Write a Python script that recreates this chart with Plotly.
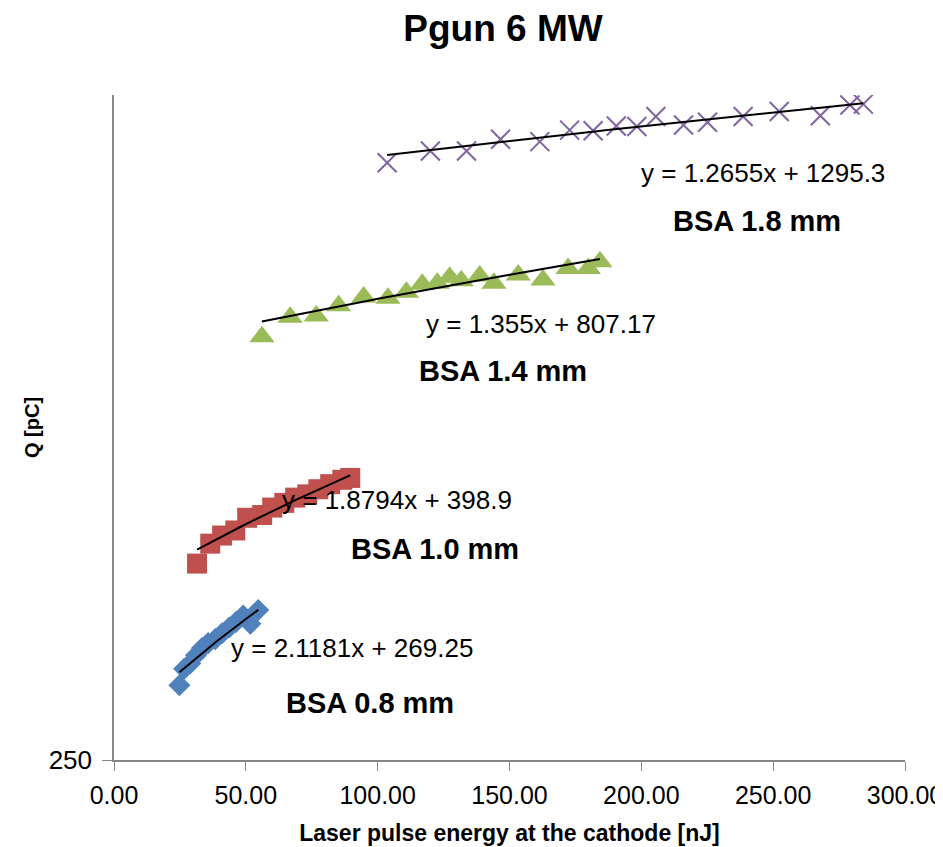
import numpy as np
import plotly.graph_objects as go

# ---- data ----
bsa08_x = [24.8, 26.6, 28.9, 31.1, 33.4, 35.7, 38.4, 41.0, 43.7, 46.3, 49.0, 51.7, 54.7]
bsa08_y = [310, 325, 330, 338, 345, 350, 354, 360, 366, 372, 379, 370, 385]

bsa10_x = [31.5, 36.5, 41.0, 46.0, 50.5, 56.2, 60.0, 64.6, 68.7, 73.3, 77.5, 82.0, 86.6, 89.6]
bsa10_y = [440, 466, 477, 484, 502, 506, 517, 524, 532, 537, 545, 553, 560, 563]

bsa14_x = [56.1, 66.8, 76.7, 85.2, 94.7, 103.9, 110.9, 116.9, 122.6, 127.3, 131.7,
           138.7, 144.1, 153.3, 162.7, 172.2, 179.9, 184.3]
bsa14_y = [845, 894, 897, 924, 948, 944, 961, 983, 986, 1003, 993,
           1007, 986, 1010, 995, 1029, 1029, 1049]

bsa18_x = [103.6, 120.0, 133.7, 146.6, 161.5, 172.8, 181.7, 190.5, 198.3, 205.5, 216.0,
           225.1, 238.6, 252.3, 267.9, 279.1, 284.2]
bsa18_y = [1395, 1443, 1443, 1492, 1482, 1532, 1529, 1550, 1548, 1593, 1555,
           1567, 1593, 1616, 1597, 1647, 1651]

series_names = ["BSA 0.8 mm", "BSA 1.0 mm", "BSA 1.4 mm", "BSA 1.8 mm"]
fit_slopes = [2.1181, 1.8794, 1.355, 1.2655]
fit_intercepts = [269.25, 398.9, 807.17, 1295.3]
fit_labels = ["y = 2.1181x + 269.25", "y = 1.8794x + 398.9",
              "y = 1.355x + 807.17", "y = 1.2655x + 1295.3"]

x_ticks = [0, 50, 100, 150, 200, 250, 300]
y_ticks = [250]

xs = [bsa08_x, bsa10_x, bsa14_x, bsa18_x]
ys = [bsa08_y, bsa10_y, bsa14_y, bsa18_y]

colors = ["#4F81BD", "#C0504D", "#9BBB59", "#8064A2"]
symbols = ["diamond", "square", "triangle-up", "x-thin-open"]
sizes = [17, 20, 22, 19]

fig = go.Figure()
for i in range(4):
    if symbols[i] == "x-thin-open":
        marker = dict(symbol=symbols[i], size=sizes[i], color=colors[i],
                      line=dict(color=colors[i], width=2))
    else:
        marker = dict(symbol=symbols[i], size=sizes[i], color=colors[i],
                      line=dict(width=0))
    fig.add_trace(go.Scatter(x=xs[i], y=ys[i], mode="markers", name=series_names[i],
                             marker=marker, showlegend=False))

for i in range(4):
    tx = np.linspace(min(xs[i]), max(xs[i]), 60)
    ty = fit_slopes[i] * tx + fit_intercepts[i]
    fig.add_trace(go.Scatter(x=tx, y=ty, mode="lines", line=dict(color="black", width=2),
                             showlegend=False, hoverinfo="skip"))

# page body adds an 8px offset; work in absolute screenshot pixels
OFF = 8
W, H = 970, 847 - OFF
L_abs, R_abs, T_abs, B_abs = 114, 905, 95, 760
L, T = L_abs - OFF, T_abs - OFF
R = W - (R_abs - OFF)
B = H - (B_abs - OFF)
pw, ph = W - L - R, H - T - B

def px(xa):
    return (xa - L_abs) / pw

def py(ya):
    return (B_abs - ya) / ph

eq_pos = [(352, 648), (397, 500), (541, 324), (763, 173)]
lab_pos = [(370, 703), (435, 549), (503, 371), (757, 221)]

annotations = []
for i in range(4):
    annotations.append(dict(x=px(eq_pos[i][0]), y=py(eq_pos[i][1]), xref="paper", yref="paper",
                            text=fit_labels[i], showarrow=False, xanchor="center", yanchor="middle",
                            font=dict(family="Liberation Sans", size=26, color="black")))
    annotations.append(dict(x=px(lab_pos[i][0]), y=py(lab_pos[i][1]), xref="paper", yref="paper",
                            text="<b>" + series_names[i] + "</b>", showarrow=False,
                            xanchor="center", yanchor="middle",
                            font=dict(family="Liberation Sans", size=29, color="black")))

fig.update_layout(
    width=W, height=H,
    margin=dict(l=L, r=R, t=T, b=B, autoexpand=False),
    paper_bgcolor="white", plot_bgcolor="white",
    title=dict(text="<b>Pgun 6 MW</b>", x=((503 - OFF) / W), xanchor="center",
               y=1 - (28 - OFF) / H, yanchor="middle",
               font=dict(family="Liberation Sans", size=37, color="black")),
    annotations=annotations,
    xaxis=dict(range=[0, 300], tickvals=x_ticks, tickformat=".2f", automargin=False,
               showgrid=False, zeroline=False, showline=True, linecolor="#868686", linewidth=1.5,
               ticks="outside", ticklen=9, tickcolor="#868686", ticklabelstandoff=3,
               tickfont=dict(family="Liberation Sans", size=25, color="black"),
               title=dict(text="<b>Laser pulse energy at the cathode [nJ]</b>", standoff=17,
                          font=dict(family="Liberation Sans", size=23, color="black"))),
    yaxis=dict(type="log", range=[np.log10(250), np.log10(1695)], tickvals=y_ticks, ticktext=["250"],
               automargin=False,
               showgrid=False, zeroline=False, showline=True, linecolor="#868686", linewidth=1.5,
               ticks="outside", ticklen=10, tickcolor="#868686", ticklabelstandoff=5,
               tickfont=dict(family="Liberation Sans", size=26, color="black"),
               title=dict(text="<b>Q [pC]</b>", standoff=4,
                          font=dict(family="Liberation Sans", size=20, color="black"))),
)

fig.write_html("out.html")
